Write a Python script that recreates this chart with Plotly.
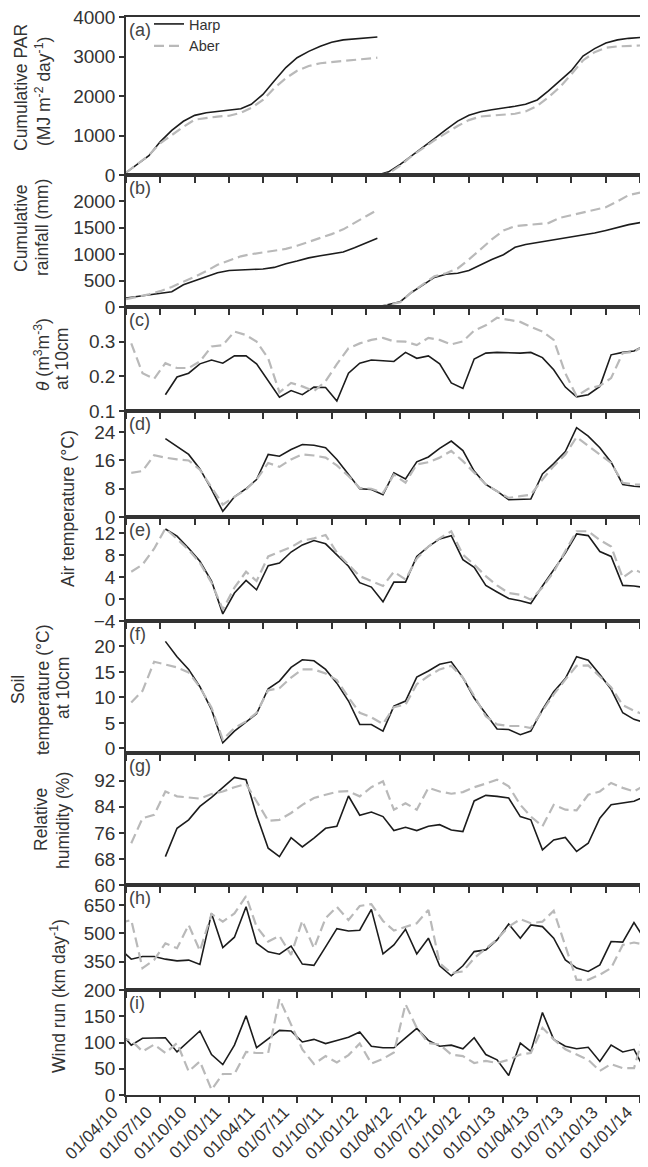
import pandas as pd
import plotly.graph_objects as go

# ---------------- data ----------------
# cumulative series (dates at month starts), season 1 and season 2 separated by a gap
cum_dates1 = ["2010-04-01", "2010-05-01", "2010-06-01", "2010-07-01", "2010-08-01", "2010-09-01",
              "2010-10-01", "2010-11-01", "2010-12-01", "2011-01-01", "2011-02-01", "2011-03-01",
              "2011-04-01", "2011-05-01", "2011-06-01", "2011-07-01", "2011-08-01", "2011-09-01",
              "2011-10-01", "2011-11-01", "2011-12-01", "2012-01-01", "2012-01-31"]
cum_dates2 = ["2012-02-01", "2012-03-01", "2012-04-01", "2012-05-01", "2012-06-01", "2012-07-01",
              "2012-08-01", "2012-09-01", "2012-10-01", "2012-11-01", "2012-12-01", "2013-01-01",
              "2013-02-01", "2013-03-01", "2013-04-01", "2013-05-01", "2013-06-01", "2013-07-01",
              "2013-08-01", "2013-09-01", "2013-10-01", "2013-11-01", "2013-12-01", "2014-01-01",
              "2014-01-18"]

par_harp1 = [60, 270, 490, 840, 1130, 1360, 1510, 1575, 1610, 1640, 1675, 1790, 2040, 2380, 2720,
             2970, 3130, 3260, 3360, 3420, 3450, 3470, 3495]
par_aber1 = [60, 270, 500, 800, 1020, 1220, 1400, 1450, 1480, 1500, 1575, 1700, 1900, 2200, 2450,
             2640, 2760, 2830, 2860, 2890, 2925, 2950, 2970]
par_harp2 = [0, 80, 270, 480, 700, 920, 1150, 1365, 1510, 1600, 1650, 1690, 1740, 1790, 1900, 2130,
             2390, 2640, 3010, 3200, 3340, 3420, 3460, 3480, 3495]
par_aber2 = [0, 40, 240, 480, 680, 880, 1060, 1240, 1390, 1480, 1505, 1525, 1550, 1610, 1750, 1970,
             2230, 2550, 2900, 3110, 3220, 3255, 3270, 3280, 3285]

rain_harp1 = [170, 200, 230, 250, 290, 420, 500, 580, 650, 690, 700, 710, 720, 750, 820, 870, 930,
              970, 1000, 1040, 1120, 1210, 1300]
rain_aber1 = [150, 190, 240, 300, 380, 480, 570, 680, 800, 880, 960, 1000, 1030, 1060, 1100, 1160,
              1230, 1300, 1380, 1470, 1600, 1720, 1840]
rain_harp2 = [0, 45, 100, 275, 420, 560, 620, 640, 690, 800, 900, 990, 1130, 1185, 1220, 1256, 1290,
              1320, 1355, 1400, 1450, 1510, 1560, 1600, 1730]
rain_aber2 = [0, 40, 90, 280, 430, 580, 640, 730, 900, 1100, 1280, 1450, 1530, 1550, 1565, 1590,
              1690, 1740, 1790, 1840, 1890, 2000, 2120, 2170, 2270]

# monthly series: mid-month, March 2010 .. January 2014 (47 months)
months = list(pd.date_range("2010-03-01", periods=47, freq="MS") + pd.Timedelta(days=14))
N = None
soil_moist_harp = [N, N, N, N, 0.147, 0.198, 0.209, 0.236, 0.247, 0.238, 0.259, 0.259, 0.236, 0.189,
                   0.140, 0.159, 0.147, 0.169, 0.168, 0.129, 0.209, 0.238, 0.247, 0.245, 0.243, 0.269,
                   0.252, 0.259, 0.236, 0.181, 0.165, 0.250, 0.267, 0.269, 0.267, 0.267, 0.269, 0.254,
                   0.219, 0.169, 0.141, 0.147, 0.171, 0.262, 0.269, 0.273, 0.290]
soil_moist_aber = [N, 0.295, 0.209, 0.193, 0.238, 0.224, 0.224, 0.243, 0.286, 0.290, 0.329, 0.319,
                   0.300, 0.252, 0.154, 0.181, 0.171, 0.157, 0.186, 0.235, 0.281, 0.295, 0.305, 0.311,
                   0.301, 0.300, 0.290, 0.311, 0.305, 0.292, 0.301, 0.332, 0.347, 0.369, 0.364, 0.357,
                   0.343, 0.329, 0.305, 0.209, 0.143, 0.164, 0.173, 0.195, 0.267, 0.271, 0.290]
air_max_harp = [N, N, N, N, 22.2, 19.9, 17.7, 13.6, 7.8, 1.6, 5.7, 8.0, 10.6, 17.7, 17.2, 19.1, 20.5,
                20.3, 19.6, 16.3, 12.0, 8.0, 7.8, 6.3, 12.5, 10.8, 15.6, 17.0, 19.4, 21.5, 18.8, 13.0,
                9.2, 7.3, 4.9, 4.9, 5.1, 12.2, 15.1, 18.5, 25.3, 22.9, 19.6, 15.5, 9.2, 8.7, 8.5]
air_max_aber = [N, 12.5, 13.0, 17.5, 16.8, 16.3, 16.0, 13.4, 8.2, 3.5, 5.7, 7.8, 10.6, 15.3, 14.2,
                16.3, 17.7, 17.4, 16.8, 14.6, 11.6, 8.2, 8.0, 6.8, 12.0, 9.7, 14.9, 15.5, 16.8, 18.7,
                15.8, 12.5, 9.2, 7.3, 5.4, 5.9, 6.3, 10.6, 14.4, 17.7, 22.6, 20.1, 17.7, 15.3, 9.7,
                9.2, 9.2]
air_min_harp = [N, N, N, N, 12.8, 11.5, 9.3, 6.9, 3.3, -2.7, 1.1, 3.4, 1.7, 6.1, 6.6, 8.6, 9.9, 10.7,
                10.1, 8.1, 6.0, 3.0, 2.2, -0.5, 3.1, 3.1, 7.8, 9.6, 11.0, 11.6, 7.2, 5.8, 2.5, 1.3,
                0.1, -0.3, -0.8, 2.4, 5.4, 8.4, 11.9, 11.6, 8.7, 7.8, 2.5, 2.4, 2.1]
air_min_aber = [N, 5.0, 6.3, 9.2, 12.9, 11.0, 9.0, 6.6, 3.0, -1.9, 2.1, 5.0, 3.3, 7.8, 8.7, 9.5, 10.7,
                11.1, 11.7, 8.5, 6.3, 4.2, 3.3, 2.4, 5.0, 3.6, 7.4, 9.6, 11.1, 12.4, 8.1, 6.3, 4.2,
                2.5, 1.1, 0.8, -0.1, 2.1, 5.0, 8.7, 12.4, 12.4, 10.8, 9.6, 3.9, 5.4, 4.5]
soil_t_harp = [N, N, N, N, 21.0, 18.0, 15.5, 12.1, 7.6, 1.1, 3.4, 5.2, 6.8, 11.7, 13.2, 15.9, 17.4,
               17.2, 15.5, 12.8, 9.3, 4.7, 4.7, 3.4, 8.3, 9.3, 14.0, 15.2, 16.5, 17.0, 13.9, 9.9, 6.7,
               3.8, 3.7, 2.7, 3.4, 7.6, 11.1, 13.7, 18.0, 17.3, 14.5, 11.6, 7.0, 5.7, 5.0]
soil_t_aber = [N, 9.0, 11.3, 17.0, 16.5, 15.9, 14.9, 12.0, 8.0, 1.7, 4.0, 5.3, 7.0, 11.4, 11.8, 13.9,
               15.5, 15.5, 14.7, 13.4, 10.0, 7.0, 6.1, 4.8, 8.1, 8.6, 12.6, 14.2, 15.5, 16.2, 13.9,
               10.3, 6.3, 4.7, 4.4, 4.4, 4.0, 7.3, 10.6, 13.5, 16.2, 16.3, 14.2, 12.0, 8.5, 7.4, 6.5]
rh_harp = [N, N, N, N, 68.7, 77.4, 80.0, 84.1, 86.9, 90.0, 93.0, 92.3, 81.5, 71.3, 68.7, 74.5, 71.7,
           74.4, 77.4, 78.0, 87.3, 81.4, 82.4, 81.0, 76.7, 77.7, 76.7, 78.0, 78.5, 76.9, 76.4, 85.8,
           87.5, 87.2, 86.7, 81.0, 80.0, 70.8, 73.8, 74.6, 70.3, 72.8, 80.5, 84.6, 85.1, 85.7, 87.2]
rh_aber = [N, 72.8, 80.5, 81.5, 88.7, 87.2, 86.9, 86.5, 87.9, 88.7, 90.0, 91.0, 85.7, 79.7, 80.0,
           82.1, 84.6, 86.7, 87.7, 88.6, 88.8, 87.2, 90.0, 91.8, 83.1, 85.1, 83.1, 89.8, 88.7, 88.0,
           88.5, 90.0, 91.1, 92.3, 90.3, 84.6, 81.0, 78.0, 84.6, 83.1, 82.9, 87.7, 88.7, 91.3, 89.8,
           88.7, 90.8]
wind_total_harp = [420, 363, 377, 377, 363, 354, 358, 335, 605, 424, 479, 640, 447, 402, 389, 432,
                   337, 330, 428, 524, 512, 516, 626, 391, 438, 521, 391, 474, 328, 275, 328, 403,
                   412, 465, 549, 474, 544, 535, 474, 359, 316, 298, 333, 456, 453, 556, 461]
wind_total_aber = [555, 570, 316, 359, 447, 421, 544, 407, 602, 561, 605, 696, 535, 456, 486, 386,
                   566, 421, 579, 640, 570, 644, 654, 565, 514, 535, 553, 623, 342, 289, 298, 368,
                   421, 468, 535, 574, 553, 561, 619, 429, 254, 254, 281, 316, 438, 451, 438]
wind_b_harp = [121, 95, 108, 108, 109, 82, 103, 122, 77, 58, 95, 151, 90, 106, 123, 122, 101, 106,
               98, 104, 110, 120, 93, 90, 90, 109, 127, 104, 93, 95, 88, 109, 77, 67, 37, 99, 83,
               157, 106, 93, 88, 91, 64, 95, 82, 87, 45]
wind_b_aber = [108, 104, 83, 96, 80, 99, 45, 64, 10, 40, 40, 82, 80, 80, 183, 135, 87, 59, 74, 62,
               76, 98, 60, 69, 81, 173, 128, 99, 96, 77, 74, 61, 65, 61, 67, 77, 80, 128, 106, 87,
               77, 67, 46, 59, 51, 51, 128]

# ---------------- layout helpers ----------------
W, H = 648, 1167
ML, MR, MT, MB = 118, 4, 9, 80
PW = W - ML - MR
PH = H - MT - MB
tops = [9, 167, 299, 403, 509, 613, 745, 877, 982]
bots = [167, 299, 403, 509, 613, 745, 877, 982, 1087]


def py(p):
    return (1087 - p) / PH


def px(p):
    return (p - ML) / PW


HARP = dict(color="#1c1c1c", width=1.6)
ABER = dict(color="#b9b9b9", width=2.2, dash="10px,5px")
TXT = "#333333"
FONT = "Liberation Sans, Arial, sans-serif"

fig = go.Figure()


def add_pair(i, x_h, y_h, x_a, y_a, legend=False):
    ax = "" if i == 1 else str(i)
    fig.add_trace(go.Scatter(x=x_h, y=y_h, mode="lines", line=HARP, name="Harp",
                             showlegend=legend, xaxis="x" + ax, yaxis="y" + ax,
                             connectgaps=False))
    fig.add_trace(go.Scatter(x=x_a, y=y_a, mode="lines", line=ABER, name="Aber",
                             showlegend=legend, xaxis="x" + ax, yaxis="y" + ax,
                             connectgaps=False))


gap_dates = cum_dates1 + [None] + cum_dates2
add_pair(1, gap_dates, par_harp1 + [None] + par_harp2, gap_dates, par_aber1 + [None] + par_aber2,
         legend=True)
add_pair(2, gap_dates, rain_harp1 + [None] + rain_harp2, gap_dates, rain_aber1 + [None] + rain_aber2)
add_pair(3, months, soil_moist_harp, months, soil_moist_aber)
add_pair(4, months, air_max_harp, months, air_max_aber)
add_pair(5, months, air_min_harp, months, air_min_aber)
add_pair(6, months, soil_t_harp, months, soil_t_aber)
add_pair(7, months, rh_harp, months, rh_aber)
add_pair(8, months, wind_total_harp, months, wind_total_aber)
add_pair(9, months, wind_b_harp, months, wind_b_aber)

y_ranges = [[0, 4000], [0, 2500], [0.1, 0.4], [0, 30], [-4, 15], [-0.9, 25], [60, 100.5],
            [200, 755], [0, 200]]
y_ticks = [[0, 1000, 2000, 3000, 4000], [0, 500, 1000, 1500, 2000], [0.1, 0.2, 0.3],
           [0, 8, 16, 24], [-4, 0, 4, 8, 12], [0, 5, 10, 15, 20], [60, 68, 76, 84, 92],
           [200, 350, 500, 650], [0, 50, 100, 150]]
y_fmt = ["", "", ".1f", "", "", "", "", "", ""]

layout = dict(
    width=W, height=H,
    margin=dict(l=ML, r=MR, t=MT, b=MB, autoexpand=False),
    paper_bgcolor="white", plot_bgcolor="white",
    font=dict(family=FONT, color=TXT, size=19),
    showlegend=True,
    legend=dict(x=px(141), y=py(0), xanchor="left", yanchor="top",
                bgcolor="rgba(0,0,0,0)", font=dict(size=14.5, color=TXT),
                tracegroupgap=0, itemwidth=30),
)

for i in range(9):
    n = "" if i == 0 else str(i + 1)
    layout["xaxis" + n] = dict(
        type="date", domain=[0, 1], anchor="y" + n,
        range=["2010-04-01", "2014-02-01"],
        tick0="2010-04-01", dtick="M3", tickformat="%d/%m/%y",
        ticks="outside", ticklen=6, tickwidth=1.5, tickcolor="#333",
        showline=True, mirror=True, linecolor="#333", linewidth=1.5,
        showgrid=False, zeroline=False,
        showticklabels=(i == 8), tickangle=-45,
        tickfont=dict(size=17, color=TXT),
        ticklabeloverflow="allow",
        ticklabelshift=-13, ticklabelstandoff=-7,
        automargin=False,
    )
    if i > 0:
        layout["xaxis" + n]["matches"] = "x"
    layout["yaxis" + n] = dict(
        domain=[py(bots[i]), py(tops[i])], anchor="x" + n,
        range=y_ranges[i], tickvals=y_ticks[i], tickformat=y_fmt[i],
        ticks="outside", ticklen=5, tickwidth=1.5, tickcolor="#333",
        showline=True, mirror=True, linecolor="#333", linewidth=1.5,
        showgrid=False, zeroline=False,
        tickfont=dict(size=19, color=TXT), automargin=False,
        ticklabeloverflow="allow",
    )

fig.update_layout(**layout)

ann = []
letters = ["(a)", "(b)", "(c)", "(d)", "(e)", "(f)", "(g)", "(h)", "(i)"]
for i, t in enumerate(letters):
    ann.append(dict(text=t, x=px(119), y=py(tops[i] + 1), xref="paper", yref="paper",
                    xanchor="left", yanchor="top", showarrow=False,
                    font=dict(size=18, color="#444")))

titles = [
    ("Cumulative PAR", 13, 80),
    ("(MJ m<sup>-2</sup> day<sup>-1</sup>)", 35, 84),
    ("Cumulative", 13, 220),
    ("rainfall (mm)", 34, 220),
    ("<i>θ</i> (m<sup>3</sup>m<sup>-3</sup>)", 34, 347),
    ("at 10cm", 54, 351),
    ("Air temperature (°C)", 60, 501),
    ("Soil", 10, 682),
    ("temperature (°C)", 35, 682),
    ("at 10cm", 55, 680),
    ("Relative", 33, 812),
    ("humidity (%)", 55, 813),
    ("Wind run (km day<sup>-1</sup>)", 50, 988),
]
for t, xx, yy in titles:
    ann.append(dict(text=t, x=px(xx), y=py(yy), xref="paper", yref="paper",
                    xanchor="center", yanchor="middle", textangle=-90, showarrow=False,
                    font=dict(size=17.5, color=TXT)))

fig.update_layout(annotations=ann)
fig.write_html("out.html")
